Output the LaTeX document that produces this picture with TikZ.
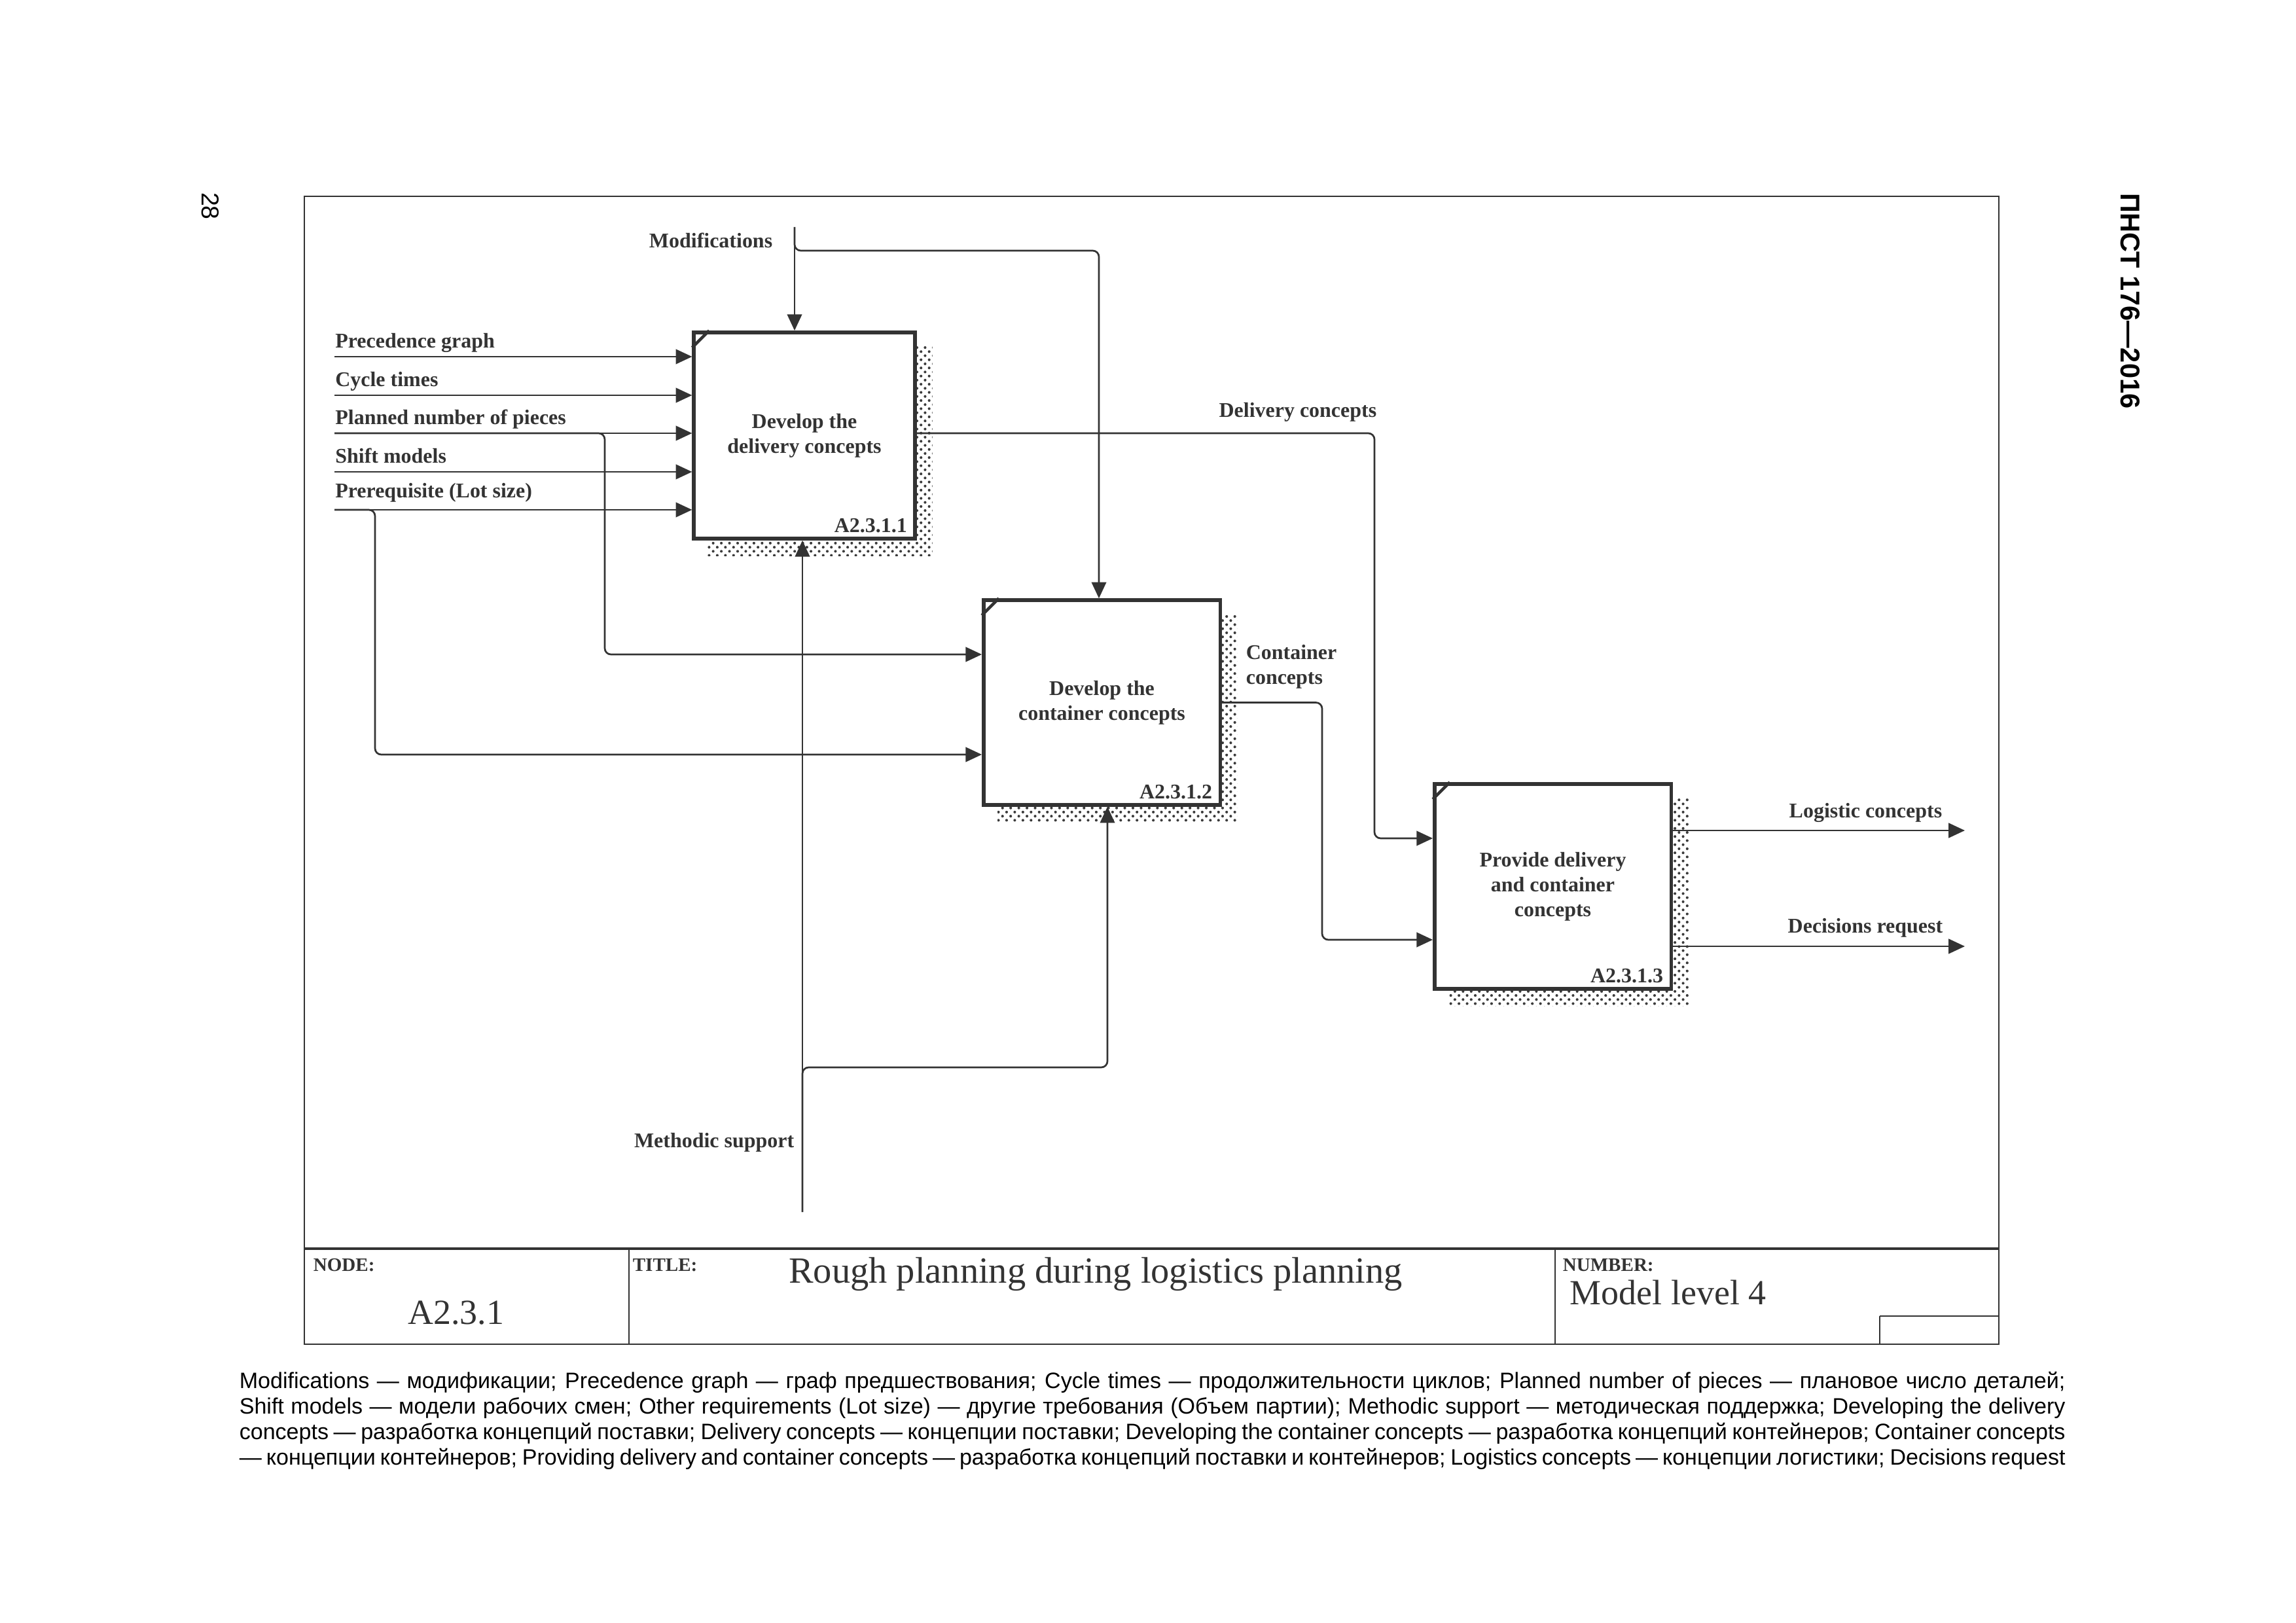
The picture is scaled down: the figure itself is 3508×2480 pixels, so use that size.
\documentclass[tikz,border=0pt]{standalone}
\usepackage{fontspec}
\setmainfont{Liberation Serif}
\setsansfont{Liberation Sans}
\usetikzlibrary{arrows.meta,backgrounds,patterns}
\definecolor{Pen}{HTML}{333333}
\definecolor{Dots}{HTML}{3C3C3C}
\newcommand{\dfont}{\bfseries\fontsize{7.7}{9.2}\selectfont}

\begin{document}
\begin{tikzpicture}[
  x=0.0846667mm, y=-0.0846667mm,
  func/.style={draw=Pen, line width=1.3pt, fill=white, align=center,
    font=\dfont, text=Pen, inner sep=0pt, minimum height=26.5mm},
  num/.style={font=\dfont, text=Pen, anchor=base east, inner sep=0pt},
  lbl/.style={font=\dfont, text=Pen, inner sep=0pt},
  inlbl/.style={lbl, anchor=base west, pos=0, yshift=1.15mm},
  flow/.style={draw=Pen, line width=0.65pt, rounded corners=0.8mm,
    -{Triangle[length=2.1mm, width=1.9mm]}},
  frame/.style={draw=Pen, line width=0.7pt},
  hdr/.style={font=\bfseries\fontsize{7}{8}\selectfont, text=Pen,
    anchor=base west, inner sep=0pt},
  big/.style={font=\fontsize{13}{15}\selectfont, text=Pen, inner sep=0pt}
]
\useasboundingbox (0,0) rectangle (3508,2480);

% frame and title block
\draw[frame] (465,300) rectangle (3054,2054);
\draw[Pen, line width=0.9pt] (465,1908) -- (3054,1908);
\draw[Pen, line width=0.5pt] (961,1908) -- (961,2054) (2376,1908) -- (2376,2054)
  (2872,2011) -- (3054,2011) (2872,2011) -- (2872,2054);
\node[hdr] (nodehdr) at (478,1942) {NODE:};
\node[hdr] (titlehdr) at (966,1942) {TITLE:};
\node[hdr] (numhdr) at (2387,1942) {NUMBER:};
\node[big, anchor=base] (nodeid) at (697,2023) {A2.3.1};
\node[big, anchor=base, font=\fontsize{13.6}{16}\selectfont] (title) at (1674,1960)
  {Rough planning during logistics planning};
\node[big, anchor=base west] (level) at (2398,1993) {Model level 4};

% activities
\node[func, minimum width=28.6mm, minimum height=26.7mm] (b1) at (1229,665.5)
  {Develop the\\delivery concepts};
\node[func, minimum width=30.6mm] (b2) at (1683.5,1073.5)
  {Develop the\\container concepts};
\node[func, minimum width=30.6mm] (b3) at (2372.5,1354.5)
  {Provide delivery\\and container\\concepts};
\begin{scope}[on background layer]
  \foreach \b in {b1,b2,b3}
    \fill[pattern=crosshatch dots, pattern color=Dots]
      ([shift={(24,24)}]\b.south west) rectangle ([shift={(24,24)}]\b.north east);
\end{scope}
\foreach \b in {b1,b2,b3}
  \draw[Pen, line width=1.1pt] ([yshift=-2.2mm]\b.north west) -- ([xshift=2.2mm]\b.north west);
\node[num] (n1) at ([shift={(-14,-12)}]b1.south east) {A2.3.1.1};
\node[num] (n2) at ([shift={(-14,-12)}]b2.south east) {A2.3.1.2};
\node[num] (n3) at ([shift={(-14,-12)}]b3.south east) {A2.3.1.3};

% inputs
\coordinate (pg) at (511,545);
\coordinate (ct) at (511,604);
\coordinate (pn) at (511,662);
\coordinate (sm) at (511,721);
\coordinate (pr) at (511,779);
\draw[flow] (pg) -- node[inlbl] (pglbl) {Precedence graph} (pg -| b1.west);
\draw[flow] (ct) -- node[inlbl] (ctlbl) {Cycle times} (ct -| b1.west);
\draw[flow] (pn) -- node[inlbl] (pnlbl) {Planned number of pieces} (pn -| b1.west);
\draw[flow] (sm) -- node[inlbl] (smlbl) {Shift models} (sm -| b1.west);
\draw[flow] (pr) -- node[inlbl, yshift=0.4mm] (prlbl) {Prerequisite (Lot size)} (pr -| b1.west);
\coordinate (pnb) at (924,1000);
\coordinate (prb) at (573,1153);
\draw[flow] (pn) -| (pnb) -- (pnb -| b2.west);
\draw[flow] (pr) -| (prb) -- (prb -| b2.west);

% controls and mechanisms
\coordinate (mod) at (1214,347);
\coordinate (modb) at (1679,383);
\draw[flow] (mod) -- (mod |- b1.north);
\draw[flow] (mod) |- (modb) -- (modb |- b2.north);
\node[lbl, anchor=base east] (modlbl) at (1181,379) {Modifications};
\coordinate (ms) at (1226,1852);
\coordinate (msb) at (1692,1631);
\draw[flow] (ms) -- (ms |- b1.south);
\draw[flow] (ms) |- (msb) -- (msb |- b2.south);
\node[lbl, anchor=base east] (mslbl) at (1214,1753) {Methodic support};

% outputs
\coordinate (dc) at (2100,1281);
\coordinate (cc) at (2020,1436);
\draw[flow] (b1.east |- pn) -| (dc) -- (dc -| b3.west);
\draw[flow] (b2.east) -| (cc) -- (cc -| b3.west);
\node[lbl, anchor=base east] (dclbl) at (2104,638) {Delivery concepts};
\node[lbl, anchor=north west, align=left] (cclbl) at (1903,984) {Container\\concepts};
\coordinate (lc) at (3002,1269);
\coordinate (dr) at (3002,1446);
\draw[flow] (lc -| b3.east) -- (lc);
\draw[flow] (dr -| b3.east) -- (dr);
\node[lbl, anchor=base east] (lclbl) at (2968,1250) {Logistic concepts};
\node[lbl, anchor=base east] (drlbl) at (2969,1425) {Decisions request};

% page margin texts
\node[font=\sffamily\bfseries\fontsize{10}{12}\selectfont, rotate=-90, inner sep=0pt]
  (std) at (3255,460) {ПНСТ 176—2016};
\node[font=\sffamily\fontsize{9}{11}\selectfont, rotate=-90, inner sep=0pt]
  (page) at (321,315) {28};
\node[anchor=base west, inner sep=0pt, text width=236.2mm, align=justify,
  font=\sffamily\fontsize{8.2}{9.45}\selectfont] (legend) at (365,2121)
  {\parfillskip=0pt Modifications — модификации; Precedence graph — граф предшествования; Cycle times — продолжительности циклов; Planned number of pieces — плановое число деталей;\linebreak
  Shift models — модели рабочих смен; Other requirements (Lot size) — другие требования (Объем партии); Methodic support — методическая поддержка; Developing the delivery\linebreak
  concepts — разработка концепций поставки; Delivery concepts — концепции поставки; Developing the container concepts — разработка концепций контейнеров; Container concepts\linebreak
  — концепции контейнеров; Providing delivery and container concepts — разработка концепций поставки и контейнеров; Logistics concepts — концепции логистики; Decisions request};
\end{tikzpicture}
\end{document}
